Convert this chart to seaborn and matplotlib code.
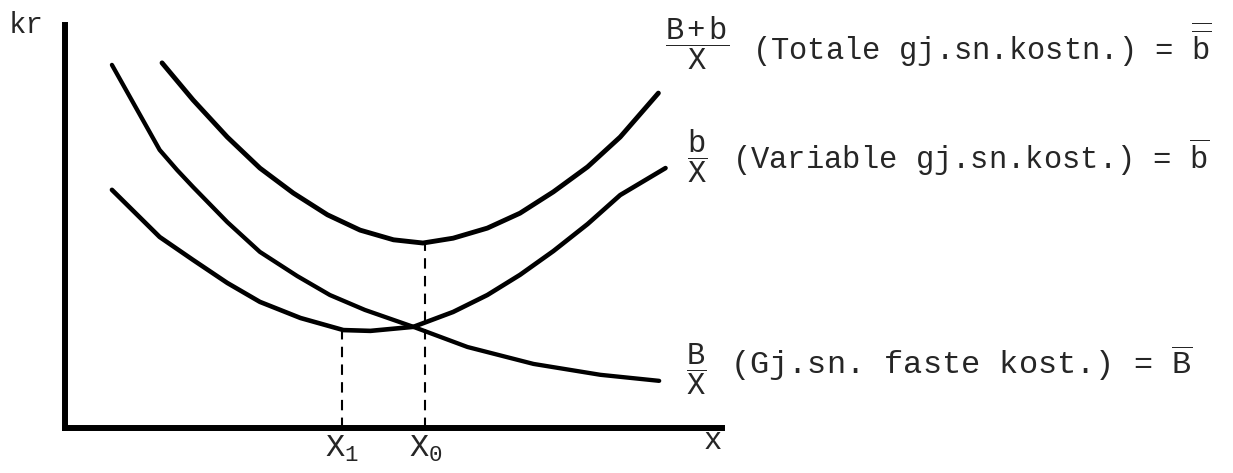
import seaborn as sns
import matplotlib.pyplot as plt

# chart units: quantity x and kr on y

# total average cost (B+b)/X
tot_x = [1.22, 1.61, 2.04, 2.45, 2.87, 3.30, 3.71, 4.13, 4.50, 4.88, 5.31, 5.72, 6.14, 6.57, 6.98, 7.46]
tot_y = [9.06, 8.14, 7.22, 6.45, 5.83, 5.29, 4.91, 4.67, 4.59, 4.71, 4.96, 5.33, 5.86, 6.48, 7.22, 8.31]

# average fixed cost B/X
fast_x = [0.59, 1.19, 1.41, 1.61, 2.04, 2.45, 2.92, 3.33, 3.77, 4.38, 5.06, 5.89, 6.73, 7.47]
fast_y = [9.01, 6.90, 6.40, 5.98, 5.11, 4.37, 3.77, 3.30, 2.93, 2.51, 2.01, 1.59, 1.32, 1.17]

# average variable cost b/X
var_x = [0.59, 1.19, 1.61, 2.04, 2.45, 2.96, 3.50, 3.84, 4.38, 4.88, 5.31, 5.72, 6.14, 6.57, 6.98, 7.55]
var_y = [5.91, 4.74, 4.17, 3.60, 3.13, 2.73, 2.43, 2.41, 2.51, 2.88, 3.30, 3.80, 4.39, 5.06, 5.78, 6.45]

# quantities marked on the x axis and the height of their dashed drop lines
mark_x = [3.48, 4.53]
mark_top = [2.41, 4.59]
mark_labels = [r'$\mathtt{X}_{\mathtt{1}}$', r'$\mathtt{X}_{\mathtt{0}}$']

sns.set_style('white')
plt.rcParams['font.family'] = ['Liberation Mono', 'DejaVu Sans']
plt.rcParams['mathtext.fontset'] = 'custom'
plt.rcParams['mathtext.tt'] = 'Liberation Mono'
plt.rcParams['mathtext.rm'] = 'Liberation Mono'
plt.rcParams['mathtext.it'] = 'Liberation Mono'

W, H = 1233, 473
fig = plt.figure(figsize=(W / 100, H / 100), dpi=100)
ax = fig.add_axes([65 / W, 45 / H, 657 / W, 403 / H])


def px(x, y):
    return x / W, 1 - y / H


line_kw = dict(sort=False, estimator=None, color='black',
               solid_joinstyle='round', solid_capstyle='round', ax=ax)
sns.lineplot(x=tot_x, y=tot_y, linewidth=3.5, **line_kw)
sns.lineplot(x=fast_x, y=fast_y, linewidth=3.1, **line_kw)
sns.lineplot(x=var_x, y=var_y, linewidth=3.3, **line_kw)
ax.vlines(mark_x, 0, mark_top, colors='black', linewidth=1.5, linestyles=(0, (5, 3.5)))

ax.set_xlim(0, 8.26)
ax.set_ylim(0, 10)
for side in ['top', 'right']:
    ax.spines[side].set_visible(False)
for side in ['left', 'bottom']:
    ax.spines[side].set_linewidth(4.3)
    ax.spines[side].set_color('black')
ax.set_yticks([])
ax.set_xticks(mark_x, mark_labels)
ax.tick_params(axis='x', length=0, pad=4, labelsize=23)

fig.text(*px(26, 25), 'kr', fontsize=21, ha='center', va='center')
fig.text(*px(713, 441), 'x', fontsize=22, ha='center', va='center')

fig.text(*px(697, 43), r'$\dfrac{\mathtt{B+b}}{\mathtt{X}}$', fontsize=22, ha='center', va='center')
fig.text(*px(752, 44), r'(Totale gj.sn.kostn.) = $\overline{\overline{\mathtt{b}}}$', fontsize=22, ha='left', va='center')

fig.text(*px(697, 156), r'$\dfrac{\mathtt{b}}{\mathtt{X}}$', fontsize=22, ha='center', va='center')
fig.text(*px(732, 157), r'(Variable gj.sn.kost.) = $\overline{\mathtt{b}}$', fontsize=22, ha='left', va='center')

fig.text(*px(696, 369), r'$\dfrac{\mathtt{B}}{\mathtt{X}}$', fontsize=22, ha='center', va='center')
fig.text(*px(730, 363), r'(Gj.sn. faste kost.) = $\overline{\mathtt{B}}$', fontsize=23, ha='left', va='center')

fig.savefig('out.png', dpi=100)
